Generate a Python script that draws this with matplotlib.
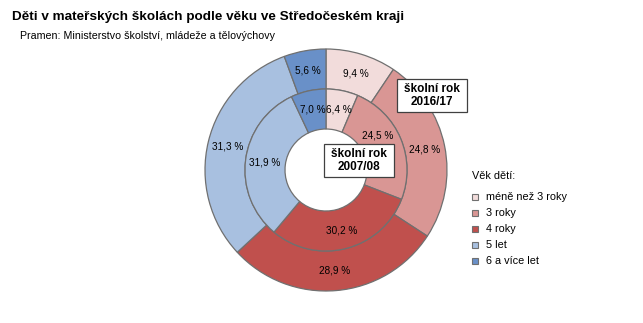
import numpy as np
import matplotlib.pyplot as plt
from matplotlib.patches import Rectangle

plt.rcParams['font.family'] = ['Liberation Sans', 'DejaVu Sans']

# age groups and shares (%) for the two school years
ages = ['méně než 3 roky', '3 roky', '4 roky', '5 let', '6 a více let']
share_2016 = [9.4, 24.8, 28.9, 31.3, 5.6]
share_2007 = [6.4, 24.5, 30.2, 31.9, 7.0]
colors = ['#F2DCDB', '#D99694', '#C0504D', '#A8C0E0', '#6990C8']

W, H = 643, 323
fig = plt.figure(figsize=(W / 100, H / 100), dpi=100)
ax = fig.add_axes([0, 0, 1, 1])

cx, cy = 326, H - 170
r_out, r_mid, r_in = 121, 81, 41
edge = dict(edgecolor='#707070', linewidth=0.9)

def pct(v):
	return ('%.1f %%' % v).replace('.', ',')

def ring(values, radius, width, label_r, nudge=None):
	nudge = nudge or {}
	wedges, _ = ax.pie(values, colors=colors, radius=radius, center=(cx, cy),
		startangle=90, counterclock=False, wedgeprops=dict(width=width, **edge),
		frame=True)
	for i, (w, v) in enumerate(zip(wedges, values)):
		# label sits in the middle of the ring, some moved a bit off the boxes
		ang = np.deg2rad((w.theta1 + w.theta2) / 2 + nudge.get(i, 0))
		ax.text(cx + label_r * np.cos(ang), cy + label_r * np.sin(ang), pct(v),
			ha='center', va='center', fontsize=7.2)

ring(share_2016, r_out, r_out - r_mid, 101)
ring(share_2007, r_mid, r_mid - r_in, 62, nudge={1: 11})
ax.set_xlim(0, W)
ax.set_ylim(0, H)
ax.axis('off')

def year_box(x0, y0, w, h, text):
	ax.add_patch(Rectangle((x0, H - y0 - h), w, h, facecolor='white',
		edgecolor='#404040', linewidth=0.9, zorder=5))
	ax.text(x0 + w / 2, H - y0 - h / 2, text, ha='center', va='center',
		fontsize=8.5, fontweight='bold', linespacing=1.1, zorder=6)

year_box(397, 79, 70, 33, 'školní rok\n2016/17')
year_box(324, 144, 70, 33, 'školní rok\n2007/08')

# title and source
fig.text(12 / W, 1 - 17 / H, 'Děti v mateřských školách podle věku ve Středočeském kraji',
	ha='left', va='center', fontsize=9.7, fontweight='bold')
fig.text(20 / W, 1 - 36 / H, 'Pramen: Ministerstvo školství, mládeže a tělovýchovy',
	ha='left', va='center', fontsize=7.7)

# legend
ax.text(472, H - 176, 'Věk dětí:', ha='left', va='center', fontsize=7.8)
for i, (name, c) in enumerate(zip(ages, colors)):
	y = H - (197 + 16 * i)
	ax.add_patch(Rectangle((472, y - 3), 6, 6, facecolor=c, edgecolor='#707070', linewidth=0.8))
	ax.text(486, y, name, ha='left', va='center', fontsize=7.8)

fig.savefig('out.png', dpi=100)
